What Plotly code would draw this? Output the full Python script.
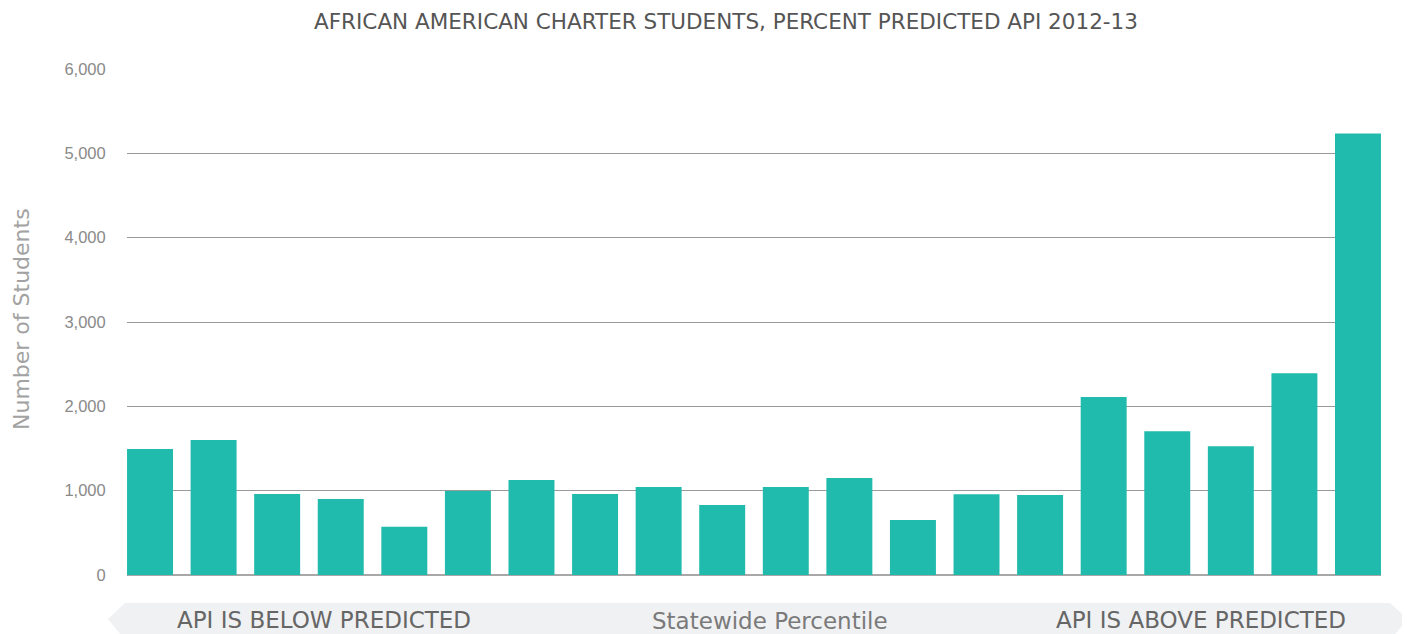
import plotly.graph_objects as go

categories = [f"P{i}" for i in range(1, 21)]
students = [1495, 1600, 960, 902, 571, 996, 1127, 960, 1043, 830,
            1043, 1150, 652, 958, 948, 2110, 1706, 1528, 2392, 5235]
y_ticks = [0, 1000, 2000, 3000, 4000, 5000, 6000]
y_tick_labels = ["0", "1,000", "2,000", "3,000", "4,000", "5,000", "6,000"]

# page body adds an 8px offset; figure coordinates are laid out relative to it
OFF = 8
W, H = 1410 - OFF, 634 - OFF
L, T = 127 - OFF, 69 - OFF
R = W - (1381 - OFF)
B = H - (575 - OFF)
pw, ph = W - L - R, H - T - B

def px(x):
    return (x - 127) / pw

def py(y):
    return (575 - y) / ph

fig = go.Figure()
fig.add_trace(go.Bar(
    x=list(range(len(categories))), y=students,
    marker=dict(color="#21BBAE", line=dict(width=0)),
    hovertext=categories,
))

band = [(108, 619), (125, 603), (1390, 603), (1408, 619), (1390, 640), (125, 640)]
path = "M " + " L ".join(f"{px(a):.5f},{py(b):.5f}" for a, b in band) + " Z"

fig.update_layout(
    width=W, height=H,
    margin=dict(l=L, r=R, t=T, b=B),
    paper_bgcolor="white", plot_bgcolor="white",
    bargap=0.277,
    showlegend=False,
    title=dict(
        text="AFRICAN AMERICAN CHARTER STUDENTS, PERCENT PREDICTED API 2012-13",
        x=(726 - OFF) / W, xanchor="center", y=1 - (21 - OFF) / H, yanchor="middle",
        font=dict(family="DejaVu Sans", size=21.5, color="#555555"),
    ),
    xaxis=dict(
        range=[-0.362, 19.362], showticklabels=False, showgrid=False,
        zeroline=False, showline=False, fixedrange=True,
    ),
    yaxis=dict(
        range=[0, 6000], tickvals=y_ticks, ticktext=y_tick_labels,
        showgrid=True, gridcolor="#9a9a9a", gridwidth=1,
        zeroline=True, zerolinecolor="#a8a8a8", zerolinewidth=2,
        showline=False,
        ticks="outside", ticklen=17, tickcolor="rgba(0,0,0,0)",
        tickfont=dict(family="Liberation Sans", size=16.5, color="#8a8a8a"),
    ),
    shapes=[dict(type="path", path=path, xref="paper", yref="paper",
                 fillcolor="#f0f1f3", line=dict(width=0), layer="below")],
    annotations=[
        dict(text="Number of Students", x=px(21), y=py(319), xref="paper", yref="paper",
             showarrow=False, xanchor="center", yanchor="middle", textangle=-90,
             font=dict(family="DejaVu Sans", size=22, color="#a2a2a2")),
        dict(text="API IS BELOW PREDICTED", x=px(324), y=py(620), xref="paper", yref="paper",
             showarrow=False, xanchor="center", yanchor="middle",
             font=dict(family="DejaVu Sans", size=23, color="#666666")),
        dict(text="Statewide Percentile", x=px(770), y=py(621), xref="paper", yref="paper",
             showarrow=False, xanchor="center", yanchor="middle",
             font=dict(family="DejaVu Sans", size=23, color="#7a7a7a")),
        dict(text="API IS ABOVE PREDICTED", x=px(1201), y=py(620), xref="paper", yref="paper",
             showarrow=False, xanchor="center", yanchor="middle",
             font=dict(family="DejaVu Sans", size=23, color="#666666")),
    ],
)

fig.write_html("out.html")
